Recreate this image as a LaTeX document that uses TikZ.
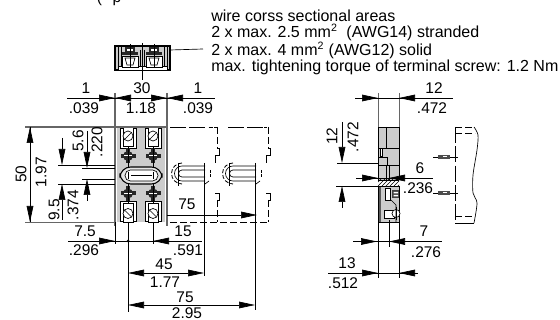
\documentclass[tikz,border=0pt]{standalone}
\usepackage{fontspec}
\setmainfont{Liberation Sans}
\usepackage{tikz}
\usetikzlibrary{arrows.meta,patterns}
\tikzstyle{dimText} = [inner sep=0pt, font=\fontsize{11.6}{12}\selectfont, text centered]
\tikzstyle{dimLine} = [draw, line width=0.5pt, black]
\tikzstyle{dimHead} = [dimLine, -{Triangle[length=12pt,width=5pt]}]
\tikzstyle{edgeLine} = [draw, line width=1pt, black!60]
\tikzstyle{partLine} = [draw, line width=0.5pt]
\tikzstyle{ghostLine} = [draw, line width=0.6pt, dash pattern=on 12pt off 2.5pt]
\tikzstyle{ghostShort} = [draw, line width=0.6pt, dash pattern=on 5pt off 2.5pt]
\tikzstyle{bodyFill} = [fill=black!20]
\begin{document}
\begin{tikzpicture}[x=0.75pt,y=-0.75pt]
  \useasboundingbox (0,0) rectangle (560,320);
  % terminal block seen from above
  \draw[partLine, bodyFill, line width=0.9pt] (115,46) rectangle (170,70);
  \draw[partLine, fill=white] (118,66) rectangle (167,70);
  \draw[partLine] (118,46) -- (118,66) (167,46) -- (167,66) (121,46) -- (121,66) (164,46) -- (164,66);
  \foreach \tx in {130,154} {
    \draw[partLine, fill=white] (\tx-8,56) rectangle (\tx+8,67);
    \draw[partLine, fill=white] (\tx-5,58) -- (\tx+5,58) -- (\tx+3,65) -- (\tx-3,65) -- cycle;
    \fill[black!85] (\tx-8,52) rectangle (\tx+8,55);
    \fill[black!85] (\tx-5,47.5) rectangle (\tx+5,52);
    \fill[white] (\tx-3,49.5) rectangle (\tx+3,51);
    \draw[partLine] (\tx,44) -- (\tx,68);
  }
  \draw[partLine] (140,50) -- (140,66) (144,50) -- (144,66);
  \draw[dimLine] (142,43) -- (142,80);
  \draw[dimLine] (170,50) -- (203,49);
  \node (cutText) at (109,-1) [dimText] {(\hspace{8pt}p};
  \node (wireText) at (211,10) [anchor=north west, inner sep=0pt, align=left, font=\fontsize{12}{11.9}\selectfont] {wire corss sectional areas\\2 x max. 2.5 mm\textsuperscript{2}\ \ (AWG14) stranded\\2 x max. 4 mm\textsuperscript{2} (AWG12) solid\\max. tightening torque of terminal screw: 1.2 Nm};
  % front view
  \fill[black!20] (117,127) rectangle (165,222);
  \foreach \ty/\flip in {127/1,222.5/-1} {
    \begin{scope}[shift={(0,\ty)},yscale=\flip]
      \foreach \tx in {128,153} {
        \draw[partLine, fill=white] (\tx-8,1) rectangle (\tx+8,21);
        \draw[partLine, fill=white] (\tx-5,0) rectangle (\tx+5,19);
        \draw[partLine, fill=white] (\tx,9) circle (5);
        \draw[partLine] (\tx-3.5,12.5) -- (\tx+3.5,5.5);
        \fill[black!85] (\tx,29) circle (5);
        \fill[black!85] (\tx-7.5,27) rectangle (\tx+7.5,31);
        \fill[black!85] (\tx-2,21) rectangle (\tx+2,36);
        \fill[white] (\tx-4,28.5) rectangle (\tx+4,29.5);
        \draw[partLine] (\tx,19) -- (\tx,40);
      }
    \end{scope}
  }
  \draw[partLine, fill=black!10, rounded corners=8pt, line width=0.8pt] (120,167) rectangle (162,184);
  \draw[partLine, fill=white, rounded corners=4pt] (125,170) rectangle (158,181);
  \draw[dimLine] (131,175.5) -- (152,175.5);
  \draw[dimLine] (128,172) -- (128,179) (153,172) -- (153,179);
  \draw[edgeLine] (115,93) -- (115,226);
  \draw[edgeLine] (167,93) -- (167,226);
  \draw[edgeLine] (25,127) -- (167,127);
  \draw[edgeLine] (25,222.5) -- (115,222.5);
  % ghost modules
  \draw[ghostLine] (170,127) -- (213,127);
  \draw[ghostLine] (228,127) -- (263,127);
  \draw[ghostShort] (214,127) -- (217,127);
  \draw[ghostShort] (264,127) -- (267,127);
  \draw[ghostShort] (170,222.5) -- (268,222.5);
  \foreach \xs in {217,268} {
    \draw[ghostShort] (\xs,127) -- (\xs,148);
    \draw[partLine] (\xs,148) -- (\xs+2,148) -- (\xs+2,155) -- (\xs-2,155) -- (\xs-2,163);
    \draw[partLine] (\xs-2,193) -- (\xs+2,193) -- (\xs+2,200) -- (\xs,200);
    \draw[ghostShort] (\xs,200) -- (\xs,222.5);
  }
  \foreach \xo in {0,51} {
    \begin{scope}[xshift=\xo*0.75pt]
      \draw[partLine] (205,166) -- (182,166) arc (-90:-270:7.5) -- (205,181);
      \draw[partLine] (205,170) -- (182,170) arc (-90:-270:3.5) -- (205,177);
      \draw[ghostShort, dash pattern=on 3pt off 1.5pt] (182,163) arc (-90:-270:10.5);
      \draw[partLine] (178,163) -- (178,186);
      \draw[partLine, dash pattern=on 2pt off 1pt] (210,170) -- (210,177);
      \draw[partLine] (205,184) -- (209,181);
    \end{scope}
  }
  % side view
  \fill[black!20] (378,127) rectangle (399,180);
  \fill[black!20] (381,187) rectangle (399,222);
  \draw[partLine] (378,127) rectangle (399,165);
  \draw[partLine] (386.5,127) -- (386.5,148) (378,148) -- (399,148) (378,157) -- (387,157) -- (387,165);
  \draw[partLine, fill=white] (380,148) rectangle (382,156);
  \draw[partLine] (386.5,165) -- (386.5,180) (378,165) -- (378,180) (399,165) -- (399,180);
  \fill[pattern=north east lines] (378,180) rectangle (399,186.5);
  \draw[partLine] (378,180) -- (399,180);
  \fill[black!65] (378,186.5) rectangle (381,222.5);
  \draw[partLine] (378,186.5) rectangle (399,222.5);
  \draw[partLine, fill=white] (385,188) rectangle (390,200);
  \fill[black!75] (392,190) rectangle (399,198);
  \fill[white] (393.5,192) rectangle (398,193.5) (393.5,195) rectangle (398,196.5);
  \draw[partLine, fill=white] (384,210) rectangle (394,218);
  \draw[partLine, fill=white] (396,213.5) circle (4);
  \draw[partLine] (396,207) -- (396,220);
  \draw[partLine] (391,200) -- (396,205) -- (396,222);
  \draw[edgeLine, line width=0.6pt] (378,93) -- (378,127);
  \draw[edgeLine, line width=0.6pt] (399,93) -- (399,127);
  % dashed cover beside the side view
  \draw[ghostLine] (455,127) -- (455,222.5);
  \draw[ghostShort] (455,127) -- (474,127);
  \draw[ghostShort] (455,133) -- (475,133);
  \draw[partLine] (455,223) -- (474,223);
  \draw[ghostShort] (455,216) -- (474,216);
  \draw[partLine] plot[smooth] coordinates {(474,127) (478,135) (477,150) (473,175) (473,193) (477,203) (474,223)};
  \foreach \py in {157,193} {
    \draw[dimLine] (433,\py) -- (458,\py);
    \fill[black!70] (438,\py-1.6) rectangle (450,\py+1.6);
    \fill[white] (443,\py-0.5) rectangle (447,\py+0.5);
  }
  % dimensions, front view
  \draw[dimLine] (67,98) -- (215,98);
  \draw[dimHead] (98,98) -- (115,98);
  \draw[dimHead] (132,98) -- (115,98);
  \draw[dimHead] (150,98) -- (167,98);
  \draw[dimHead] (184,98) -- (167,98);
  \node (d1a) at (86,88) [dimText] {1};
  \node (d1b) at (84,108) [dimText] {.039};
  \node (d30a) at (142,88) [dimText] {30};
  \node (d30b) at (141,108) [dimText] {1.18};
  \node (d2a) at (198,88) [dimText] {1};
  \node (d2b) at (198,108) [dimText] {.039};
  \draw[dimLine] (30,127) -- (30,222);
  \draw[dimHead] (30,146) -- (30,127);
  \draw[dimHead] (30,203) -- (30,222);
  \node (d50a) at (21,174) [dimText, rotate=90] {50};
  \node (d50b) at (41,172) [dimText, rotate=90] {1.97};
  \draw[dimLine] (58,165) -- (115,165) (58,184) -- (115,184);
  \draw[dimLine] (82,168) -- (115,168) (82,179) -- (115,179);
  \draw[dimHead] (62,138) -- (62,165);
  \draw[dimHead] (62,220) -- (62,184);
  \draw[dimHead] (87,131) -- (87,168);
  \draw[dimHead] (87,201) -- (87,179);
  \node (d56a) at (78,141) [dimText, rotate=90] {5.6};
  \node (d56b) at (97,142) [dimText, rotate=90] {.220};
  \node (d95a) at (54,210) [dimText, rotate=90] {9.5};
  \node (d95b) at (73,205) [dimText, rotate=90] {.374};
  \node (d75a) at (187,204) [dimText] {75};
  \draw[dimHead] (167,215) -- (257,215);
  \draw[dimLine] (115,222) -- (115,244);
  \draw[dimLine] (153,222) -- (153,244);
  \draw[dimLine] (128,222) -- (128,312);
  \draw[dimLine] (204,163) -- (204,276);
  \draw[dimLine] (255,163) -- (255,310);
  \draw[dimLine] (68,241) -- (202,241);
  \draw[dimHead] (98,241) -- (115,241);
  \draw[dimHead] (170,241) -- (153,241);
  \fill (128,241) circle (1.5);
  \node (d75b) at (85,231) [dimText] {7.5};
  \node (d75c) at (84,250) [dimText] {.296};
  \node (d15a) at (183,231) [dimText] {15};
  \node (d15b) at (188,250) [dimText] {.591};
  \draw[dimHead] (145,273) -- (128,273);
  \draw[dimHead] (187,273) -- (204,273);
  \draw[dimLine] (145,273) -- (187,273);
  \node (d45a) at (164,264) [dimText] {45};
  \node (d45b) at (165,282) [dimText] {1.77};
  \draw[dimLine] (145,305) -- (238,305);
  \draw[dimHead] (145,305) -- (128,305);
  \draw[dimHead] (238,305) -- (255,305);
  \node (d75d) at (185,297) [dimText] {75};
  \node (d295) at (187,313) [dimText] {2.95};
  % dimensions, side view
  \draw[dimLine] (355,98) -- (453,98);
  \draw[dimHead] (361,98) -- (378,98);
  \draw[dimHead] (416,98) -- (399,98);
  \node (s12a) at (434,88) [dimText] {12};
  \node (s12b) at (432,108) [dimText] {.472};
  \draw[dimLine] (337,163) -- (378,163) (336,186) -- (378,186);
  \draw[dimHead] (342,122) -- (342,163);
  \draw[dimHead] (342,208) -- (342,186);
  \node (s12c) at (332,136) [dimText, rotate=90] {12};
  \node (s12d) at (353,137) [dimText, rotate=90] {.472};
  \draw[dimLine] (356,178) -- (433,178);
  \draw[dimLine] (389,165) -- (389,180);
  \draw[dimHead] (361,178) -- (378,178);
  \draw[dimHead] (406,178) -- (389,178);
  \node (s6a) at (420,168) [dimText] {6};
  \node (s6b) at (418,188) [dimText] {.236};
  \draw[dimLine] (378,222) -- (378,278) (399,222) -- (399,278) (389,220) -- (389,247);
  \draw[dimLine] (353,241.5) -- (442,241.5);
  \draw[dimHead] (360,241.5) -- (377,241.5);
  \draw[dimHead] (406,241.5) -- (389,241.5);
  \node (s7a) at (424,231) [dimText] {7};
  \node (s7b) at (426,252) [dimText] {.276};
  \draw[dimLine] (328,273) -- (418,273);
  \draw[dimHead] (361,273) -- (378,273);
  \draw[dimHead] (416,273) -- (399,273);
  \node (s13a) at (347,263) [dimText] {13};
  \node (s13b) at (343,283) [dimText] {.512};
\end{tikzpicture}
\end{document}
